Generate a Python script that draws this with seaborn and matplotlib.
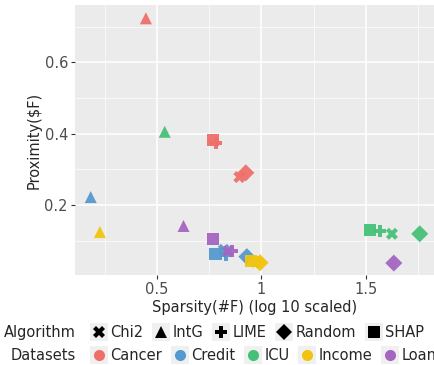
import pandas as pd
import matplotlib.pyplot as plt
import seaborn as sns
from matplotlib.lines import Line2D
from matplotlib.legend_handler import HandlerTuple
from matplotlib.ticker import MultipleLocator

# data
datasets = ["Cancer", "Credit", "ICU", "Income", "Loan"]
algorithms = ["Chi2", "IntG", "LIME", "Random", "SHAP"]

# sparsity (log10 scaled) per dataset, in algorithm order
sparsity = {
    "Cancer": [0.894, 0.447, 0.782, 0.925, 0.770],
    "Credit": [0.820, 0.183, 0.830, 0.930, 0.780],
    "ICU":    [1.624, 0.537, 1.565, 1.757, 1.517],
    "Income": [0.975, 0.227, 0.985, 0.993, 0.948],
    "Loan":   [0.840, 0.627, 0.860, 1.633, 0.770],
}
# proximity per dataset, in algorithm order
proximity = {
    "Cancer": [0.278, 0.723, 0.373, 0.290, 0.382],
    "Credit": [0.074, 0.222, 0.060, 0.055, 0.063],
    "ICU":    [0.119, 0.405, 0.128, 0.119, 0.130],
    "Income": [0.040, 0.124, 0.040, 0.038, 0.042],
    "Loan":   [0.070, 0.141, 0.072, 0.037, 0.104],
}

colors = ["#EF6F6A", "#5599CF", "#45C177", "#F1C40F", "#A566C0"]
markers = {"Chi2": "X", "IntG": "^", "LIME": "P", "Random": "D", "SHAP": "s"}

rows = []
for d in datasets:
    for i, a in enumerate(algorithms):
        rows.append({"Datasets": d, "Algorithm": a,
                     "sparsity": sparsity[d][i], "proximity": proximity[d][i]})
df = pd.DataFrame(rows)

sns.set_theme(style="darkgrid", rc={"axes.facecolor": "#EBEBEB", "grid.color": "white"})
plt.rcParams["font.family"] = ["DejaVu Sans"]

fig = plt.figure(figsize=(4.35, 3.65), dpi=100)
ax = fig.add_axes([0.172, 0.247, 0.828, 0.739])

sns.scatterplot(data=df, x="sparsity", y="proximity", hue="Datasets", style="Algorithm",
                palette=colors, markers=markers, hue_order=datasets, style_order=algorithms,
                s=75, linewidth=0, alpha=0.95, ax=ax, legend=False, zorder=3)

ax.set_xlim(0.107, 1.83)
ax.set_ylim(0.004, 0.76)
ax.xaxis.set_minor_locator(MultipleLocator(0.25))
ax.yaxis.set_major_locator(MultipleLocator(0.2))
ax.yaxis.set_minor_locator(MultipleLocator(0.1))
ax.set_xticks([0.5, 1, 1.5])
ax.set_xticklabels(["0.5", "1", "1.5"])
ax.grid(which="major", color="white", linewidth=1.1)
ax.grid(which="minor", color="white", linewidth=0.5)
ax.tick_params(which="major", length=3, width=0.8, color="#333333",
               labelsize=10.5, labelcolor="#4D4D4D", pad=2, bottom=True, left=True)
ax.tick_params(which="minor", length=0)
for sp in ax.spines.values():
    sp.set_visible(False)

ax.set_xlabel("Sparsity(#F) (log 10 scaled)", fontsize=10.5, labelpad=2)
ax.set_ylabel("Proximity($F)", fontsize=10.5, labelpad=2)

# legends below the plot, each key on a light grey box like ggplot
def key_box():
    return Line2D([], [], marker="s", color="#F0F0F0", linestyle="",
                  markersize=12.5, markeredgewidth=0)

alg_handles = [(key_box(), Line2D([], [], marker=markers[a], color="black", linestyle="",
                                  markersize=8, markeredgewidth=0)) for a in algorithms]
ds_handles = [(key_box(), Line2D([], [], marker="o", color=c, linestyle="",
                                 markersize=8, markeredgewidth=0)) for c in colors]

leg_kw = dict(ncol=5, frameon=False, fontsize=10.5, handlelength=1.0,
              handletextpad=0.3, columnspacing=0.7, borderaxespad=0, borderpad=0,
              handler_map={tuple: HandlerTuple(ndivide=1)})
fig.legend(alg_handles, algorithms, loc="center left",
           bbox_to_anchor=(0.21, 0.088), **leg_kw)
fig.legend(ds_handles, datasets, loc="center left",
           bbox_to_anchor=(0.21, 0.025), **leg_kw)
fig.text(0.175, 0.088, "Algorithm", ha="right", va="center", fontsize=10.5)
fig.text(0.175, 0.025, "Datasets", ha="right", va="center", fontsize=10.5)

fig.savefig("out.png", dpi=100)
